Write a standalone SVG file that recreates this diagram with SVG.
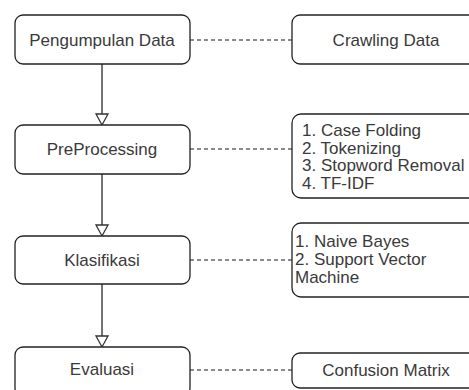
<svg xmlns="http://www.w3.org/2000/svg" width="469" height="390" viewBox="0 0 469 390">
<defs>
<style>
.box{fill:#fff;stroke:#222;stroke-width:1.3}
.t{font-family:"Liberation Sans",Arial,sans-serif;font-size:17px;fill:#3a3a3a}
.c{text-anchor:middle}
.dash{stroke:#666;stroke-width:1.3;stroke-dasharray:4 3;fill:none}
.arr{stroke:#444;stroke-width:1.5;fill:none}
.head{fill:#fff;stroke:#333;stroke-width:1.3}
</style>
</defs>
<rect width="469" height="390" fill="#fff"/>
<g id="connectors">
<line class="dash" x1="190" y1="40" x2="292" y2="40"/>
<line class="dash" x1="190" y1="149" x2="292" y2="149"/>
<line class="dash" x1="190" y1="260" x2="292" y2="260"/>
<line class="dash" x1="190" y1="370" x2="292" y2="370"/>
<line class="arr" x1="102" y1="64" x2="102" y2="114"/>
<polygon class="head" points="96,114 108,114 102,125"/>
<line class="arr" x1="102" y1="174" x2="102" y2="225"/>
<polygon class="head" points="96,225 108,225 102,236"/>
<line class="arr" x1="102" y1="284" x2="102" y2="336"/>
<polygon class="head" points="96,336 108,336 102,347"/>
</g>
<g id="pengumpulan">
<rect class="box" x="15" y="15" width="175" height="49" rx="8"/>
<text class="t c" x="102" y="46">Pengumpulan Data</text>
</g>
<g id="crawling">
<rect class="box" x="292" y="15" width="190" height="49" rx="8"/>
<text class="t c" x="386" y="46">Crawling Data</text>
</g>
<g id="preprocessing">
<rect class="box" x="15" y="125" width="175" height="49" rx="8"/>
<text class="t c" x="102" y="155">PreProcessing</text>
</g>
<g id="preprocessing-steps">
<rect class="box" x="292" y="114" width="190" height="84" rx="9"/>
<text class="t" x="302" y="136">1. Case Folding</text>
<text class="t" x="302" y="153.7">2. Tokenizing</text>
<text class="t" x="302" y="171.4">3. Stopword Removal</text>
<text class="t" x="302" y="189">4. TF-IDF</text>
</g>
<g id="klasifikasi">
<rect class="box" x="15" y="236" width="175" height="48" rx="8"/>
<text class="t c" x="102" y="266">Klasifikasi</text>
</g>
<g id="klasifikasi-methods">
<rect class="box" x="292" y="223" width="190" height="74" rx="9"/>
<text class="t" x="295" y="247">1. Naive Bayes</text>
<text class="t" x="295" y="265">2. Support Vector</text>
<text class="t" x="295" y="283">Machine</text>
</g>
<g id="evaluasi">
<rect class="box" x="15" y="347" width="175" height="49" rx="8"/>
<text class="t c" x="102" y="375">Evaluasi</text>
</g>
<g id="confusion">
<rect class="box" x="292" y="353" width="190" height="35" rx="8"/>
<text class="t c" x="386" y="376">Confusion Matrix</text>
</g>
</svg>
